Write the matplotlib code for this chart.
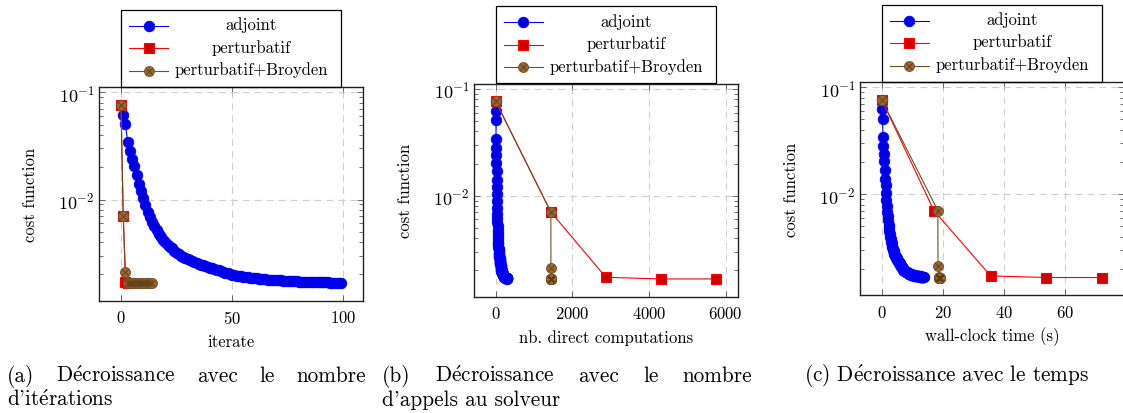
import numpy as np
import matplotlib
matplotlib.use("Agg")
import matplotlib.pyplot as plt
from matplotlib.patches import Rectangle
from matplotlib.lines import Line2D
from matplotlib.ticker import MultipleLocator, LogLocator

plt.rcParams['font.family'] = ['cmr10', 'DejaVu Serif']
plt.rcParams['mathtext.fontset'] = 'cm'
plt.rcParams['axes.formatter.use_mathtext'] = True
plt.rcParams['font.size'] = 12
plt.rcParams['lines.scale_dashes'] = False

# valeurs
adj_cost = [0.0764, 0.0620, 0.0508, 0.0342, 0.0282, 0.0239, 0.0204, 0.0169, 0.0140, 0.0121,
            0.0103, 0.0089, 0.0077, 0.0068, 0.0062, 0.0057, 0.0052, 0.0048, 0.0045, 0.0042,
            0.0040, 0.0038, 0.0036, 0.0035, 0.0033, 0.0032, 0.0031, 0.0030, 0.00292, 0.00284,
            0.00277, 0.00271, 0.00265, 0.00260, 0.00255, 0.00251, 0.00247, 0.00243, 0.00239, 0.00236,
            0.00232, 0.00228, 0.00225, 0.00221, 0.00218, 0.00214, 0.00211, 0.00208, 0.00205, 0.00202,
            0.00199, 0.00197, 0.00195, 0.00193, 0.00192, 0.00190, 0.00189, 0.00188, 0.00187, 0.00186,
            0.00185, 0.00184, 0.00183, 0.00182, 0.00181, 0.00180, 0.00179, 0.00179, 0.00178, 0.00177,
            0.00177, 0.00176, 0.00176, 0.00175, 0.00175, 0.00174, 0.00174, 0.00173, 0.00173, 0.00173,
            0.00172, 0.00172, 0.00172, 0.00171, 0.00171, 0.00171, 0.00171, 0.00170, 0.00170, 0.00170,
            0.00169, 0.00169, 0.00169, 0.00169, 0.00168, 0.00168, 0.00168, 0.00168, 0.00168, 0.00167]
adj_iter = np.arange(len(adj_cost))
adj_calls_per_iter = 3        # appels directs par iteration
adj_time_per_iter = 0.1394    # secondes par iteration

pert_cost = [0.0764, 0.00702, 0.00172, 0.00166, 0.00166]
pert_iter = [0, 1, 2, 3, 4]
pert_calls = [0, 1440, 2875, 4315, 5750]
pert_time = [0, 17.1, 35.7, 54.0, 72.2]

broy_cost = [0.0764, 0.00702, 0.00212, 0.00167, 0.00166, 0.00166, 0.00166, 0.00166,
             0.00166, 0.00166, 0.00166, 0.00166, 0.00166, 0.00166, 0.00166]
broy_iter = list(range(15))
broy_calls = [0, 1440, 1441, 1442, 1443, 1444, 1445, 1446, 1447, 1448, 1449, 1450, 1451, 1452, 1453]
broy_time = [0, 18.4, 18.45, 18.8, 18.82, 18.84, 18.86, 18.88, 18.9, 18.92, 18.94, 18.96, 18.98, 19.0, 19.02]

xlabels = ["iterate", "nb. direct computations", "wall-clock time (s)"]
xsteps = [50, 2000, 20]
labels = ["adjoint", "perturbatif", "perturbatif+Broyden"]

blue_st = dict(color='blue', lw=0.8, marker='o', ms=7.6, mfc='#0000DD', mec='blue', mew=0.6)
red_st = dict(color='red', lw=0.8, marker='s', ms=7.4, mfc='#CC0000', mec='red', mew=0.8)
brown_st = dict(color='#734D26', lw=0.8, marker='o', ms=7.2, mfc='#996633', mec='#734D26', mew=0.6)
cross_st = dict(ls='none', marker='x', ms=4.2, mec='#5A3A1A', mew=0.6)

W, H = 1123, 414
fig = plt.figure(figsize=(W / 100, H / 100), dpi=100)

# position des axes en pixels : gauche, haut, droite, bas
boxes = [(99, 88, 363, 302), (473.7, 84.7, 738, 297.7), (859.7, 83, 1124, 296.3)]

xs_adj = [adj_iter, adj_iter * adj_calls_per_iter, adj_iter * adj_time_per_iter]
xs_pert = [pert_iter, pert_calls, pert_time]
xs_broy = [broy_iter, broy_calls, broy_time]


def fx(p):
    return p / W


def fy(p):
    return 1 - p / H


axes = []
for k in range(3):
    l, t, r, b = boxes[k]
    ax = fig.add_axes([fx(l), fy(b), (r - l) / W, (b - t) / H])
    ax.plot(xs_adj[k], adj_cost, **blue_st)
    ax.plot(xs_pert[k], pert_cost, **red_st)
    ax.plot(xs_broy[k], broy_cost, **brown_st)
    ax.plot(xs_broy[k], broy_cost, **cross_st)
    ax.set_yscale('log')
    ax.margins(0.1)
    ax.xaxis.set_major_locator(MultipleLocator(xsteps[k]))
    ax.yaxis.set_major_locator(LogLocator(base=10))
    ax.yaxis.set_minor_locator(LogLocator(base=10, subs=np.arange(2, 10)))
    ax.xaxis.set_minor_locator(plt.NullLocator())
    ax.grid(True, which='major', color='#cfcfcf', lw=0.8, ls=(0, (5, 3.6)))
    ax.set_axisbelow(True)
    ax.tick_params(which='both', direction='in', top=True, right=True, color='#555555', width=0.6)
    ax.tick_params(which='major', length=4, labelsize=12)
    ax.tick_params(axis='x', pad=6)
    ax.tick_params(axis='y', pad=3, labelsize=13)
    ax.tick_params(which='minor', length=2.6)
    for s in ax.spines.values():
        s.set_linewidth(1.0)
        s.set_color('#222222')
    ax.set_xlabel(xlabels[k], fontsize=12)
    ax.xaxis.set_label_coords(0.5, -(40 / (b - t)))
    ax.xaxis.label.set_va('center')
    ax.set_ylabel("cost function", fontsize=12)
    ax.yaxis.set_label_coords(-68.5 / (r - l), 0.5)
    ax.yaxis.label.set_va('center')

    # légende dessinée au-dessus des axes
    cx = (l + r) / 2
    lx = cx - 110
    ly = t - 77
    fig.add_artist(Rectangle((fx(lx), fy(t - 0.5)), 220 / W, 77 / H, transform=fig.transFigure,
                             fill=False, ec='black', lw=0.9))
    rows = [ly + 15.5, ly + 38, ly + 60.5]
    styles = [blue_st, red_st, brown_st]
    for j in range(3):
        yy = fy(rows[j])
        st = dict(styles[j])
        fig.add_artist(Line2D([fx(lx + 8), fx(lx + 47)], [yy, yy], transform=fig.transFigure,
                              color=st['color'], lw=st['lw']))
        mk = {kk: v for kk, v in st.items() if kk not in ('color', 'lw')}
        fig.add_artist(Line2D([fx(lx + 27.5)], [yy], transform=fig.transFigure, ls='none', **mk))
        if j == 2:
            fig.add_artist(Line2D([fx(lx + 27.5)], [yy], transform=fig.transFigure, **cross_st))
        fig.text(fx(lx + 130.5), fy(rows[j] + 3.5), labels[j], ha='center', va='baseline', fontsize=12)
    axes.append(ax)

# légendes des sous-figures (é en mathtext, cmr10 n'a pas ce glyphe)
cap = 15.3
dec = r"D$\mathrm{\acute{e}}$croissance"
renderer = fig.canvas.get_renderer()


def justify(words, x0, x1, y):
    # texte justifié comme dans la légende LaTeX
    txts = [fig.text(0, fy(y), w, fontsize=cap, va='baseline') for w in words]
    widths = [tt.get_window_extent(renderer).width for tt in txts]
    gap = (x1 - x0 - sum(widths)) / (len(words) - 1)
    x = x0
    for tt, wd in zip(txts, widths):
        tt.set_x(fx(x))
        x += wd + gap


justify(["(a)", dec, "avec", "le", "nombre"], 7.3, 366, 381.7)
fig.text(fx(7.3), fy(406.5), r"d'it$\mathrm{\acute{e}}$rations", fontsize=cap, va='baseline')
justify(["(b)", dec, "avec", "le", "nombre"], 382.3, 752, 381.7)
fig.text(fx(382.3), fy(406.5), "d'appels au solveur", fontsize=cap, va='baseline')
fig.text(fx(947), fy(381.3), r"(c) D$\mathrm{\acute{e}}$croissance avec le temps", fontsize=cap,
         va='baseline', ha='center')

fig.savefig("out.png", dpi=100)
